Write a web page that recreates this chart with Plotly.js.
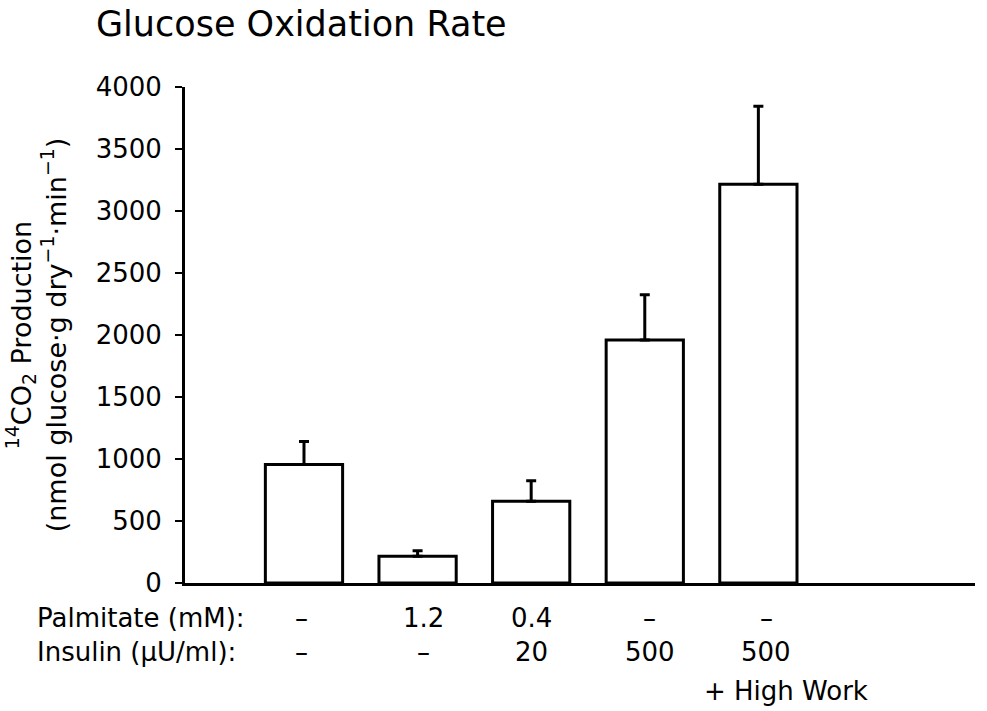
<!DOCTYPE html>
<html>
<head>
<meta charset="utf-8">
<script src="https://cdn.plot.ly/plotly-3.0.1.min.js"></script>
<style>html,body{margin:0;padding:0;background:#fff;}#chart{width:987px;height:711px;}</style>
</head>
<body>
<div id="chart"></div>
<script>
// Data
const conditions = ["Control", "Palmitate 1.2 mM", "Palmitate 0.4 mM + Insulin 20", "Insulin 500", "Insulin 500 + High Work"];
const co2Production = [955, 215, 660, 1960, 3215];
const errorPlus = [186, 45, 165, 365, 630];
const palmitateLabels = ["–", "1.2", "0.4", "–", "–"];
const insulinLabels = ["–", "–", "20", "500", "500"];
const yTickVals = [0, 500, 1000, 1500, 2000, 2500, 3000, 3500, 4000];

// Layout-only tweaks (pixel nudges of the column labels)
const labelNudge = [-2, 6, 0, 5, 8];

const FONT = "DejaVu Sans, Liberation Sans, sans-serif";
const xIdx = conditions.map((c, i) => i);

const trace = {
  type: "bar",
  x: xIdx,
  y: co2Production,
  width: 0.68,
  marker: { color: "#ffffff", line: { color: "#000000", width: 3 } },
  error_y: {
    type: "data",
    symmetric: false,
    array: errorPlus,
    arrayminus: errorPlus.map(() => 0),
    color: "#000000",
    thickness: 3,
    width: 5
  },
  hoverinfo: "x+y"
};

const lblFont = { family: FONT, size: 26, color: "#000" };
const annotations = [];
palmitateLabels.forEach((t, i) => annotations.push({
  x: i, xref: "x", xshift: labelNudge[i], y: -0.07, yref: "paper", text: t, showarrow: false,
  xanchor: "center", yanchor: "middle", font: lblFont
}));
insulinLabels.forEach((t, i) => annotations.push({
  x: i, xref: "x", xshift: labelNudge[i], y: -0.14, yref: "paper", text: t, showarrow: false,
  xanchor: "center", yanchor: "middle", font: lblFont
}));
annotations.push({
  x: 0.0, xref: "paper", xshift: -150, y: -0.07, yref: "paper", text: "Palmitate (mM):",
  showarrow: false, xanchor: "left", yanchor: "middle", font: lblFont
});
annotations.push({
  x: 0.0, xref: "paper", xshift: -150, y: -0.14, yref: "paper", text: "Insulin (\u03BCU/ml):",
  showarrow: false, xanchor: "left", yanchor: "middle", font: lblFont
});
annotations.push({
  x: conditions.length - 1, xref: "x", xshift: -56, y: -0.217, yref: "paper", text: "+ High Work",
  showarrow: false, xanchor: "left", yanchor: "middle", font: lblFont
});

const layout = {
  width: 987,
  height: 711,
  paper_bgcolor: "#ffffff",
  plot_bgcolor: "#ffffff",
  margin: { l: 185, r: 12, t: 87, b: 128 },
  showlegend: false,
  title: {
    text: "Glucose Oxidation Rate",
    font: { family: FONT, size: 35, color: "#000" },
    xref: "container", x: 96 / 987, xanchor: "left",
    yref: "container", y: 1 - 24 / 711, yanchor: "middle"
  },
  xaxis: {
    range: [-1.0475, 5.907],
    showgrid: false,
    zeroline: false,
    showline: true,
    linecolor: "#000",
    linewidth: 3,
    ticks: "",
    showticklabels: false,
    fixedrange: true
  },
  yaxis: {
    range: [0, 4000],
    tickvals: yTickVals,
    ticktext: yTickVals.map(String),
    showgrid: false,
    zeroline: false,
    showline: true,
    linecolor: "#000",
    linewidth: 3,
    ticks: "outside",
    ticklen: 7,
    tickwidth: 2,
    tickcolor: "#000",
    ticklabelstandoff: 8,
    tickfont: { family: FONT, size: 26, color: "#000" },
    title: {
      text: "<sup>14</sup>CO<sub>2</sub> Production<br>(nmol glucose\u00B7g dry<sup>\u22121</sup>\u00B7min<sup>\u22121</sup>)",
      font: { family: FONT, size: 27, color: "#000" },
      standoff: 22
    },
    fixedrange: true
  },
  annotations: annotations
};

Plotly.newPlot("chart", [trace], layout, { staticPlot: true, displayModeBar: false });
</script>
</body>
</html>
